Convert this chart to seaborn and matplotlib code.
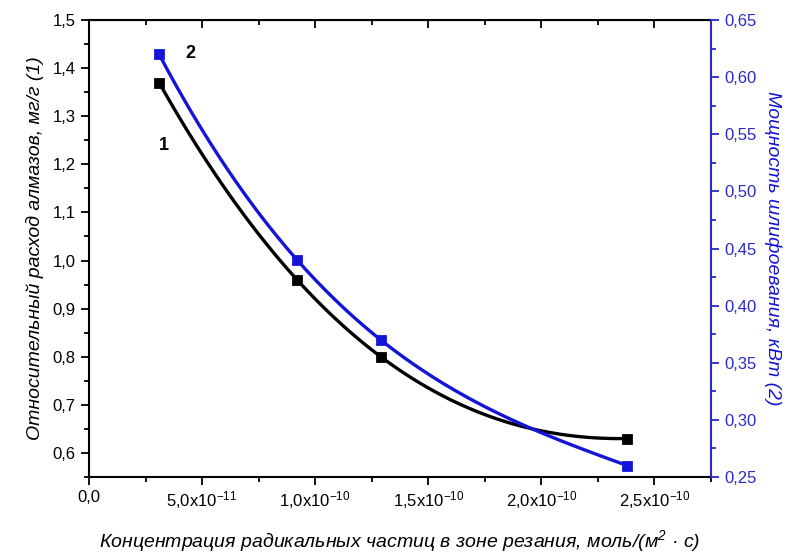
import numpy as np
import pandas as pd
import matplotlib
matplotlib.use("Agg")
import matplotlib.pyplot as plt
import seaborn as sns
from matplotlib.ticker import MultipleLocator, FuncFormatter, AutoMinorLocator

# ---------- data ----------
conc = [3.1e-11, 9.2e-11, 1.29e-10, 2.38e-10]      # mol/(m2*s)
diamond = [1.37, 0.96, 0.80, 0.63]                 # curve 1, mg/g
power = [0.62, 0.44, 0.37, 0.26]                   # curve 2, kW

xtick_vals = [0, 5e-11, 1e-10, 1.5e-10, 2e-10, 2.5e-10]
xtick_labels = ["0,0", "5,0x10$^{\\mathregular{-11}}$", "1,0x10$^{\\mathregular{-10}}$",
                "1,5x10$^{\\mathregular{-10}}$", "2,0x10$^{\\mathregular{-10}}$",
                "2,5x10$^{\\mathregular{-10}}$"]

df = pd.DataFrame({"conc": conc, "diamond": diamond, "power": power})

sns.set_style("ticks")
plt.rcParams["font.family"] = ["Liberation Sans", "DejaVu Sans"]
plt.rcParams["mathtext.fontset"] = "custom"
plt.rcParams["mathtext.rm"] = "Liberation Sans"
plt.rcParams["mathtext.it"] = "Liberation Sans:italic"
plt.rcParams["text.color"] = "black"
plt.rcParams["axes.labelcolor"] = "black"
plt.rcParams["xtick.color"] = "black"
plt.rcParams["ytick.color"] = "black"
plt.rcParams["axes.edgecolor"] = "black"

blue = "#1414d8"
axblue = "#2a2ac8"

fig = plt.figure(figsize=(7.98, 5.55), dpi=100)
ax = fig.add_axes([0.1115, 0.1405, 0.7795, 0.8235])
ax2 = ax.twinx()

# ---------- curve 1 (black, left axis) ----------
sns.regplot(data=df, x="conc", y="diamond", order=3, ci=None, scatter=False,
            ax=ax, line_kws=dict(color="black", lw=2.4))
sns.scatterplot(data=df, x="conc", y="diamond", ax=ax, marker="s", s=50,
                color="black", edgecolor="black", zorder=5)

# ---------- curve 2 (blue, right axis) ----------
sns.regplot(data=df, x="conc", y="power", order=3, ci=None, scatter=False,
            ax=ax2, line_kws=dict(color=blue, lw=2.4))
sns.scatterplot(data=df, x="conc", y="power", ax=ax2, marker="s", s=50,
                color=blue, edgecolor=blue, zorder=5)

ax.set_xlim(0, 2.75e-10)
ax.set_ylim(0.55, 1.5)
ax2.set_ylim(0.25, 0.65)

# x axis
ax.set_xticks(xtick_vals)
ax.set_xticklabels(xtick_labels, fontsize=12)
ax.xaxis.set_minor_locator(MultipleLocator(2.5e-11))
ax.tick_params(axis="x", which="major", direction="out", length=6, width=1.3, pad=3)
ax.tick_params(axis="x", which="minor", direction="out", length=3.5, width=1.3)

# left y axis
ax.yaxis.set_major_locator(MultipleLocator(0.1))
ax.yaxis.set_minor_locator(AutoMinorLocator(2))
ax.yaxis.set_major_formatter(FuncFormatter(lambda v, p: f"{v:.1f}".replace(".", ",")))
ax.tick_params(axis="y", which="major", direction="out", length=6, width=1.3, labelsize=12)
ax.tick_params(axis="y", which="minor", direction="out", length=3.5, width=1.3)

# right y axis
ax2.yaxis.set_major_locator(MultipleLocator(0.05))
ax2.yaxis.set_minor_locator(AutoMinorLocator(2))
ax2.yaxis.set_major_formatter(FuncFormatter(lambda v, p: f"{v:.2f}".replace(".", ",")))
ax2.tick_params(axis="y", which="major", direction="out", length=6, width=1.3,
                labelsize=12, colors=axblue)
ax2.tick_params(axis="y", which="minor", direction="out", length=3.5, width=1.3,
                colors=axblue)

# top axis with inward ticks, no labels
top = ax.secondary_xaxis("top")
top.set_xticks(xtick_vals)
top.xaxis.set_minor_locator(MultipleLocator(2.5e-11))
top.tick_params(axis="x", which="major", direction="in", length=6, width=1.3, labeltop=False)
top.tick_params(axis="x", which="minor", direction="in", length=3.5, width=1.3)

for s in ["left", "bottom"]:
    ax.spines[s].set_linewidth(1.5)
top.spines["top"].set_linewidth(1.5)
ax2.spines["right"].set_color(axblue)
ax2.spines["right"].set_linewidth(1.5)
ax2.spines["left"].set_visible(False)
ax2.spines["top"].set_visible(False)
ax2.spines["bottom"].set_visible(False)
ax.spines["right"].set_visible(False)

ax.set_xlabel("Концентрация радикальных частиц в зоне резания, моль/(м$^{\\mathregular{2}}$ · с)",
              fontsize=14, style="italic", labelpad=12)
ax.set_ylabel("Относительный расход алмазов, мг/г (1)", fontsize=14, style="italic", labelpad=6)
ax2.set_ylabel("Мощность шлифоевания, кВт (2)", fontsize=14, style="italic",
               color=blue, rotation=270, labelpad=18)

ax.text(3.3e-11, 1.24, "1", fontsize=13, fontweight="bold", ha="center", va="center")
ax.text(4.5e-11, 1.43, "2", fontsize=13, fontweight="bold", ha="center", va="center")

fig.savefig("out.png", dpi=100)
